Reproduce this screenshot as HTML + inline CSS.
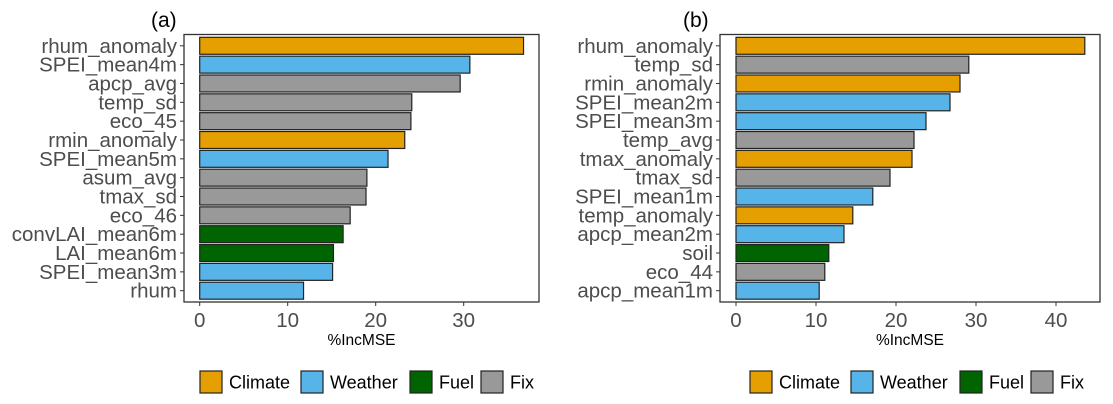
<!DOCTYPE html>
<html><head><meta charset="utf-8"><style>
body{margin:0;background:#fff;}
svg{display:block;font-family:"Liberation Sans",Arial,sans-serif;}
</style></head><body>
<svg id="c" width="1113" height="404" viewBox="0 0 1113 404"></svg>
<script>
const catsA=["rhum_anomaly","SPEI_mean4m","apcp_avg","temp_sd","eco_45","rmin_anomaly","SPEI_mean5m","asum_avg","tmax_sd","eco_46","convLAI_mean6m","LAI_mean6m","SPEI_mean3m","rhum"];
const valsA=[36.8,30.7,29.6,24.1,24.0,23.3,21.4,19.0,18.9,17.1,16.3,15.2,15.1,11.8];
const grpA=["Climate","Weather","Fix","Fix","Fix","Climate","Weather","Fix","Fix","Fix","Fuel","Fuel","Weather","Weather"];
const ticksA=[0,10,20,30];
const catsB=["rhum_anomaly","temp_sd","rmin_anomaly","SPEI_mean2m","SPEI_mean3m","temp_avg","tmax_anomaly","tmax_sd","SPEI_mean1m","temp_anomaly","apcp_mean2m","soil","eco_44","apcp_mean1m"];
const valsB=[43.6,29.1,28.0,26.75,23.75,22.25,22.0,19.25,17.1,14.6,13.5,11.6,11.1,10.4];
const grpB=["Climate","Fix","Climate","Weather","Weather","Fix","Climate","Fix","Weather","Climate","Weather","Fuel","Fix","Weather"];
const ticksB=[0,10,20,30,40];
const legendLabels=["Climate","Weather","Fuel","Fix"];
const colors={Climate:"#E69F00",Weather:"#56B4E9",Fuel:"#006400",Fix:"#999999"};
const svg=document.getElementById('c');
const NS="http://www.w3.org/2000/svg";
function mk(tag,attrs,parent){const e=document.createElementNS(NS,tag);for(const k in attrs)e.setAttribute(k,attrs[k]);(parent||svg).appendChild(e);return e;}
function panel(id,cats,vals,grp,ticks,L,R,x0,pxPer,title,titleX,legX){
  const T=34.5,B=302;
  const g=mk('g',{});
  
  
  const xs=v=>x0+v*pxPer;
  const band=(B-T)/(cats.length-1+1.2);
  const ys=i=>T+(0.6+i)*band;
  const t=mk('text',{x:titleX,y:27,'font-size':21,fill:'#000'},g);t.textContent=title;
  
  cats.forEach((c,i)=>{
    const r=mk('rect',{x:xs(0),y:ys(i)-band*0.45,width:xs(vals[i])-xs(0),height:band*0.9,fill:colors[grp[i]],stroke:'#222','stroke-width':1.2},g);
    
    mk('line',{x1:L-4,x2:L,y1:ys(i),y2:ys(i),stroke:'#333','stroke-width':1},g);
    const lb=mk('text',{x:L-7,y:ys(i)+7,'font-size':20.5,fill:'#4d4d4d','text-anchor':'end'},g);lb.textContent=c;
    
  });
  const fr=mk('rect',{x:L,y:T,width:R-L,height:B-T,fill:'none',stroke:'#333','stroke-width':1.3},g);
  
  ticks.forEach(v=>{
    mk('line',{x1:xs(v),x2:xs(v),y1:B,y2:B+4,stroke:'#333','stroke-width':1},g);
    const tl=mk('text',{x:xs(v),y:B+25,'font-size':20.5,fill:'#4d4d4d','text-anchor':'middle'},g);tl.textContent=v;
    
  });
  const xt=mk('text',{x:(L+R)/2,y:345,'font-size':15.5,fill:'#000','text-anchor':'middle'},g);xt.textContent='%IncMSE';
  
  const offs=[0,101,210,281];
  legendLabels.forEach((lab,i)=>{
    const kx=legX+offs[i];
    const k=mk('rect',{x:kx,y:371,width:22,height:22,fill:colors[lab],stroke:'#222','stroke-width':1.2},g);
    
    const lt=mk('text',{x:kx+29,y:388.5,'font-size':18,fill:'#000'},g);lt.textContent=lab;
    
  });
}
panel('a',catsA,valsA,grpA,ticksA,184,539,199.7,8.8,'(a)',151,200);
panel('b',catsB,valsB,grpB,ticksB,720,1100,736,8.0,'(b)',683,750);
</script>
</body></html>
